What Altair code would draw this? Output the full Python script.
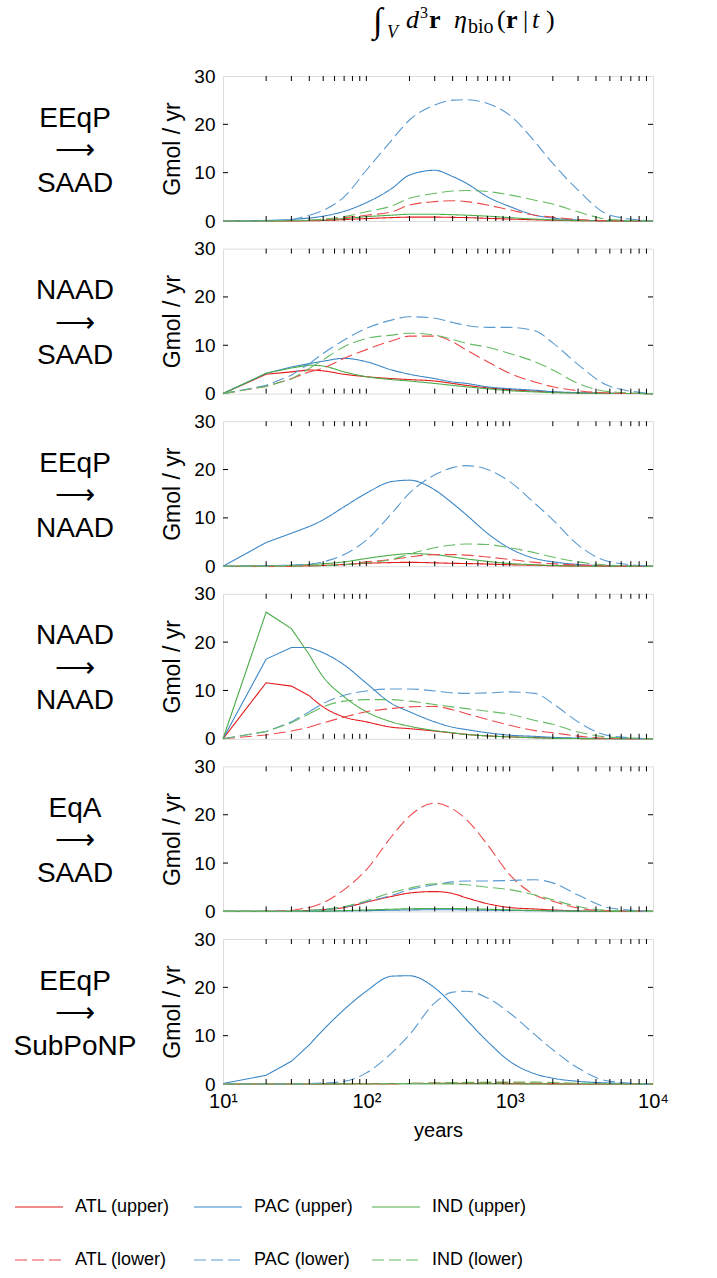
import altair as alt
import pandas as pd

FONT = "Liberation Sans"
SERIF = "Liberation Serif"

# time axis samples (years)
T = [10, 20, 30, 40, 50, 70, 100, 150, 200, 300, 400, 500, 700, 1000, 1500, 2000, 3000, 5000, 10000]

SERIES = ["ATL (upper)", "PAC (upper)", "IND (upper)", "ATL (lower)", "PAC (lower)", "IND (lower)"]
UPPER = SERIES[:3]
LOWER = SERIES[3:]
COLORS = ["#e41a1c", "#3a86c6", "#4cad49", "#ec4a4c", "#5a9ad0", "#66bb63"]
DASH = [12, 5]
DASHES = [[1, 0], [1, 0], [1, 0], DASH, DASH, DASH]

ROW_LABELS = [
    ["EEqP", "⟶", "SAAD"],
    ["NAAD", "⟶", "SAAD"],
    ["EEqP", "⟶", "NAAD"],
    ["NAAD", "⟶", "NAAD"],
    ["EqA", "⟶", "SAAD"],
    ["EEqP", "⟶", "SubPoNP"],
]

# Panel 1: EEqP -> SAAD
P1_ATL_U = [0, 0, 0.02, 0.05, 0.1, 0.3, 0.5, 0.7, 0.8, 0.8, 0.75, 0.7, 0.55, 0.4, 0.25, 0.15, 0.07, 0.02, 0]
P1_PAC_U = [0, 0.1, 0.3, 0.6, 1.0, 2.0, 3.8, 6.7, 9.5, 10.5, 9.2, 7.8, 5.0, 3.0, 1.2, 0.6, 0.2, 0.05, 0]
P1_IND_U = [0, 0, 0.05, 0.1, 0.2, 0.5, 0.9, 1.2, 1.4, 1.4, 1.3, 1.2, 1.0, 0.7, 0.4, 0.25, 0.1, 0.02, 0]
P1_ATL_L = [0, 0, 0.05, 0.15, 0.3, 0.7, 1.2, 1.9, 3.3, 4.0, 4.2, 4.0, 3.3, 2.3, 1.2, 0.8, 0.3, 0.05, 0]
P1_PAC_L = [0, 0.05, 0.2, 1.2, 2.2, 5.0, 10.5, 16.7, 20.9, 24.0, 25.0, 25.1, 24.3, 21.9, 16.4, 11.9, 6.4, 1.2, 0]
P1_IND_L = [0, 0, 0.05, 0.2, 0.4, 0.9, 1.9, 3.1, 4.7, 5.7, 6.2, 6.3, 6.1, 5.4, 4.3, 3.5, 1.9, 0.3, 0]

# Panel 2: NAAD -> SAAD
P2_ATL_U = [0, 4.0, 4.5, 4.9, 4.7, 4.0, 3.5, 3.1, 2.9, 2.6, 2.1, 1.7, 1.2, 0.8, 0.5, 0.3, 0.15, 0.05, 0]
P2_PAC_U = [0, 4.2, 5.5, 6.2, 6.7, 7.3, 6.6, 4.9, 4.0, 3.1, 2.4, 2.1, 1.4, 1.0, 0.7, 0.4, 0.2, 0.05, 0]
P2_IND_U = [0, 4.2, 5.3, 5.9, 5.7, 4.5, 3.5, 2.9, 2.6, 2.1, 1.7, 1.4, 1.0, 0.6, 0.35, 0.2, 0.1, 0.03, 0]
P2_ATL_L = [0, 1.5, 3.1, 4.5, 5.3, 7.3, 9.1, 10.9, 11.9, 11.9, 10.7, 9.0, 6.6, 4.2, 2.4, 1.4, 0.6, 0.1, 0]
P2_PAC_L = [0, 1.7, 3.8, 6.2, 8.3, 11.1, 13.5, 15.2, 15.9, 15.6, 14.7, 14.1, 13.7, 13.7, 13.0, 10.5, 6.0, 1.5, 0]
P2_IND_L = [0, 1.5, 3.0, 5.2, 7.0, 9.7, 11.4, 12.1, 12.5, 12.1, 11.2, 10.4, 9.6, 8.3, 6.6, 4.9, 2.1, 0.4, 0]

# Panel 3: EEqP -> NAAD
P3_ATL_U = [0, 0, 0.02, 0.08, 0.15, 0.35, 0.6, 0.75, 0.8, 0.7, 0.6, 0.55, 0.45, 0.3, 0.2, 0.1, 0.05, 0.01, 0]
P3_PAC_U = [0, 4.9, 6.8, 8.2, 9.6, 12.3, 15.1, 17.5, 17.8, 15.8, 13.0, 10.6, 6.8, 3.7, 1.6, 0.9, 0.35, 0.1, 0]
P3_IND_U = [0, 0.1, 0.2, 0.35, 0.5, 0.9, 1.6, 2.3, 2.6, 2.4, 1.9, 1.5, 1.0, 0.55, 0.3, 0.15, 0.05, 0.01, 0]
P3_ATL_L = [0, 0, 0.03, 0.08, 0.15, 0.3, 0.9, 1.4, 1.9, 2.4, 2.4, 2.3, 1.9, 1.4, 0.8, 0.5, 0.25, 0.05, 0]
P3_PAC_L = [0, 0.1, 0.2, 0.4, 0.9, 2.4, 5.4, 10.9, 15.1, 18.9, 20.4, 20.8, 20.0, 17.5, 13.0, 9.6, 4.4, 0.9, 0]
P3_IND_L = [0, 0, 0.02, 0.05, 0.1, 0.3, 0.7, 1.4, 2.5, 3.8, 4.4, 4.6, 4.5, 3.8, 2.8, 1.9, 0.9, 0.2, 0]

# Panel 4: NAAD -> NAAD
P4_ATL_U = [0, 11.6, 10.9, 8.9, 6.6, 4.5, 3.5, 2.4, 2.1, 1.6, 1.2, 0.9, 0.6, 0.4, 0.25, 0.15, 0.05, 0.01, 0]
P4_PAC_U = [0, 16.5, 18.9, 18.9, 17.8, 15.3, 11.5, 7.3, 5.6, 3.5, 2.4, 1.9, 1.25, 0.75, 0.5, 0.3, 0.15, 0.05, 0]
P4_IND_U = [0, 26.2, 22.8, 17.4, 12.8, 8.7, 5.6, 3.5, 2.6, 1.7, 1.25, 0.9, 0.6, 0.4, 0.2, 0.1, 0.05, 0.01, 0]
P4_ATL_L = [0, 0.8, 1.6, 2.4, 3.3, 4.5, 5.6, 6.25, 6.6, 6.7, 6.0, 5.2, 4.0, 2.8, 1.7, 1.25, 0.55, 0.1, 0]
P4_PAC_L = [0, 1.5, 3.5, 5.6, 7.3, 9.0, 9.9, 10.3, 10.3, 9.9, 9.5, 9.4, 9.5, 9.7, 9.4, 7.3, 3.5, 0.6, 0]
P4_IND_L = [0, 1.5, 3.3, 5.2, 6.6, 7.8, 8.1, 8.1, 7.8, 7.1, 6.6, 6.25, 5.7, 5.1, 3.8, 3.0, 1.4, 0.35, 0]

# Panel 5: EqA -> SAAD
P5_ATL_U = [0, 0, 0.05, 0.2, 0.35, 0.8, 1.9, 3.1, 3.8, 4.1, 3.7, 2.8, 1.6, 0.8, 0.5, 0.3, 0.1, 0.02, 0]
P5_PAC_U = [0, 0, 0, 0.02, 0.05, 0.1, 0.15, 0.25, 0.3, 0.35, 0.35, 0.3, 0.25, 0.2, 0.15, 0.1, 0.05, 0.01, 0]
P5_IND_U = [0, 0, 0.01, 0.03, 0.05, 0.15, 0.3, 0.45, 0.55, 0.6, 0.6, 0.55, 0.45, 0.3, 0.2, 0.1, 0.05, 0.01, 0]
P5_ATL_L = [0, 0.05, 0.2, 0.8, 1.8, 4.5, 8.6, 15.5, 19.7, 22.4, 21.2, 19.0, 13.8, 7.6, 3.4, 2.1, 0.7, 0.1, 0]
P5_PAC_L = [0, 0, 0.02, 0.1, 0.3, 0.9, 2.0, 3.3, 4.5, 5.5, 6.1, 6.3, 6.3, 6.4, 6.55, 5.9, 3.4, 0.7, 0]
P5_IND_L = [0, 0, 0.05, 0.2, 0.4, 1.0, 2.2, 3.9, 4.8, 5.7, 5.7, 5.5, 5.0, 4.5, 3.4, 2.4, 1.0, 0.2, 0]

# Panel 6: EEqP -> SubPoNP
P6_ATL_U = [0, 0, 0, 0.01, 0.02, 0.04, 0.06, 0.08, 0.1, 0.12, 0.12, 0.12, 0.1, 0.08, 0.05, 0.03, 0.01, 0, 0]
P6_PAC_U = [0.1, 1.8, 4.7, 8.1, 11.2, 15.4, 19.2, 22.3, 22.4, 19.9, 16.4, 13.3, 8.8, 4.7, 2.1, 1.2, 0.55, 0.2, 0]
P6_IND_U = [0, 0, 0, 0.01, 0.02, 0.03, 0.05, 0.06, 0.07, 0.07, 0.07, 0.06, 0.05, 0.04, 0.03, 0.02, 0.01, 0, 0]
P6_ATL_L = [0, 0, 0, 0, 0.01, 0.02, 0.04, 0.08, 0.12, 0.2, 0.25, 0.28, 0.3, 0.28, 0.22, 0.15, 0.07, 0.01, 0]
P6_PAC_L = [0, 0, 0.05, 0.1, 0.2, 0.55, 2.3, 6.4, 10.2, 16.8, 19.0, 19.2, 17.8, 14.7, 10.2, 7.1, 3.3, 0.55, 0]
P6_IND_L = [0, 0, 0, 0, 0.01, 0.02, 0.04, 0.08, 0.12, 0.2, 0.28, 0.33, 0.38, 0.4, 0.38, 0.3, 0.15, 0.03, 0]

PANELS = [
    [P1_ATL_U, P1_PAC_U, P1_IND_U, P1_ATL_L, P1_PAC_L, P1_IND_L],
    [P2_ATL_U, P2_PAC_U, P2_IND_U, P2_ATL_L, P2_PAC_L, P2_IND_L],
    [P3_ATL_U, P3_PAC_U, P3_IND_U, P3_ATL_L, P3_PAC_L, P3_IND_L],
    [P4_ATL_U, P4_PAC_U, P4_IND_U, P4_ATL_L, P4_PAC_L, P4_IND_L],
    [P5_ATL_U, P5_PAC_U, P5_IND_U, P5_ATL_L, P5_PAC_L, P5_IND_L],
    [P6_ATL_U, P6_PAC_U, P6_IND_U, P6_ATL_L, P6_PAC_L, P6_IND_L],
]

X_TICKS = [20, 30, 40, 50, 60, 70, 80, 90, 100, 200, 300, 400, 500, 600, 700, 800, 900,
           1000, 2000, 3000, 4000, 5000, 6000, 7000, 8000, 9000]
Y_TICKS = [10, 20]
X_LABELS = [10, 100, 1000, 10000]
Y_LABELS = [0, 10, 20, 30]

W, H = 430, 145
SPLIT_T = 40  # straight segments before this, smooth curve after

# legend layout (pixels, relative to the bottom panel's plot area)
LEG_COL_X = [-208, -29, 149]
LEG_ROW_Y = [268, 321]
LEG_SYM_LEN = 48
LEG_GAP = 12

rows = []
for p, series_vals in enumerate(PANELS):
    for s, vals in zip(SERIES, series_vals):
        for t, v in zip(T, vals):
            rows.append({"panel": p, "series": s, "t": t, "v": v})
df = pd.DataFrame(rows)

xt_df = pd.DataFrame({"t": X_TICKS})
yt_df = pd.DataFrame({"v": Y_TICKS})
one = pd.DataFrame({"k": [0]})

XSCALE = alt.Scale(type="log", domain=[10, 10000], nice=False)
YSCALE = alt.Scale(domain=[0, 30], nice=False, zero=False)
CSCALE = alt.Scale(domain=SERIES, range=COLORS)
DSCALE = alt.Scale(domain=SERIES, range=DASHES)


def x_enc(last):
    if last:
        ax = alt.Axis(
            values=X_LABELS,
            labelExpr="datum.value == 10 ? '10¹' : datum.value == 100 ? '10²' : datum.value == 1000 ? '10³' : '10⁴'",
            ticks=False, domain=False, grid=False, labelFontSize=20, labelFont=FONT,
            labelColor="black", labelPadding=7, labelFlush=False, labelOverlap=False,
            title="years", titleFontSize=20, titleFont=FONT, titleFontWeight="normal",
            titleColor="black", titlePadding=9,
        )
    else:
        ax = None
    return alt.X("t:Q", scale=XSCALE, axis=ax)


def y_enc():
    ax = alt.Axis(
        values=Y_LABELS, ticks=False, domain=False, grid=False, labelFontSize=19,
        labelFont=FONT, labelColor="black", labelPadding=8, labelFlush=False,
        title="Gmol / yr", titleFontSize=23, titleFont=FONT, titleFontWeight="normal",
        titleColor="black", titlePadding=9,
    )
    return alt.Y("v:Q", scale=YSCALE, axis=ax)


TITLE_PIECES = [
    # text, style, weight, size, screen x, screen baseline y
    ("∫", "normal", "normal", 35, 371, 32),
    ("V", "italic", "normal", 18, 385, 38),
    ("d", "italic", "normal", 26, 404, 28),
    ("3", "normal", "normal", 16, 418, 18),
    ("r", "normal", "bold", 26, 427, 28),
    ("η", "italic", "normal", 26, 452, 28),
    ("bio", "normal", "normal", 20, 466, 33),
    ("(", "normal", "normal", 26, 495, 28),
    ("r", "normal", "bold", 26, 504, 28),
    ("|", "normal", "normal", 26, 521, 28),
    ("t", "italic", "normal", 26, 530, 28),
    (")", "normal", "normal", 26, 544, 28),
]


def legend_layers():
    out = []
    for i, name in enumerate(SERIES):
        cx = LEG_COL_X[i % 3]
        cy = LEG_ROW_Y[i // 3]
        rule_kw = dict(color=COLORS[i], strokeWidth=1)
        if name in LOWER:
            rule_kw["strokeDash"] = DASH
        out.append(alt.Chart(one).mark_rule(**rule_kw).encode(
            x=alt.value(cx), x2=alt.value(cx + LEG_SYM_LEN), y=alt.value(cy)))
        out.append(alt.Chart(one).mark_text(
            font=FONT, fontSize=18, align="left", baseline="middle", color="black"
        ).encode(text=alt.value(name), x=alt.value(cx + LEG_SYM_LEN + LEG_GAP), y=alt.value(cy)))
    return out


def make_panel(p):
    last = p == len(PANELS) - 1
    d = df[df.panel == p]
    d_late = d[d.t >= SPLIT_T]
    d_early_solid = d[(d.t <= SPLIT_T) & d.series.isin(UPPER)]
    d_early_dash = d[(d.t <= SPLIT_T) & d.series.isin(LOWER)]
    late = alt.Chart(d_late).mark_line(strokeWidth=1.1, interpolate="monotone").encode(
        x=x_enc(last), y=y_enc(),
        color=alt.Color("series:N", scale=CSCALE, legend=None),
        strokeDash=alt.StrokeDash("series:N", scale=DSCALE, legend=None),
    )
    early_solid = alt.Chart(d_early_solid).mark_line(strokeWidth=1.1, interpolate="linear").encode(
        x=x_enc(last), y=y_enc(),
        stroke=alt.Stroke("series:N", scale=CSCALE, legend=None),
    )
    early_dash = alt.Chart(d_early_dash).mark_line(
        strokeWidth=1.1, interpolate="linear", strokeDash=DASH).encode(
        x=x_enc(last), y=y_enc(),
        stroke=alt.Stroke("series:N", scale=CSCALE, legend=None),
    )
    top_ticks = alt.Chart(xt_df).mark_rule(color="black", strokeWidth=1).encode(
        x=x_enc(last), y=alt.value(0), y2=alt.value(5))
    bot_ticks = alt.Chart(xt_df).mark_rule(color="black", strokeWidth=1).encode(
        x=x_enc(last), y=alt.value(H), y2=alt.value(H - 5))
    left_ticks = alt.Chart(yt_df).mark_rule(color="black", strokeWidth=1).encode(
        y=y_enc(), x=alt.value(0), x2=alt.value(5))
    right_ticks = alt.Chart(yt_df).mark_rule(color="black", strokeWidth=1).encode(
        y=y_enc(), x=alt.value(W), x2=alt.value(W - 5))
    label = alt.Chart(one).mark_text(
        font=FONT, fontSize=28, align="center", baseline="middle", lineHeight=32.5, color="black"
    ).encode(text=alt.value(ROW_LABELS[p]), x=alt.value(-148), y=alt.value(H / 2 - 30))
    layers = [late, early_solid, early_dash, top_ticks, bot_ticks, left_ticks, right_ticks, label]
    if p == 0:
        for txt, st, wt, sz, sx, sy in TITLE_PIECES:
            layers.append(
                alt.Chart(one).mark_text(
                    font=SERIF, fontSize=sz, fontStyle=st, fontWeight=wt, align="left",
                    baseline="alphabetic", color="black"
                ).encode(text=alt.value(txt), x=alt.value(sx - 221), y=alt.value(sy - 76))
            )
    if last:
        layers.extend(legend_layers())
    return alt.layer(*layers).properties(width=W, height=H)


chart = alt.vconcat(*[make_panel(p) for p in range(len(PANELS))], spacing=27.6, bounds="flush")
chart = chart.properties(
    padding={"left": 13, "top": 3, "right": 5, "bottom": 5}
).configure_view(stroke="black", strokeWidth=1).configure(background="white")

chart.save("out.html", embed_options={"renderer": "svg", "actions": False})
